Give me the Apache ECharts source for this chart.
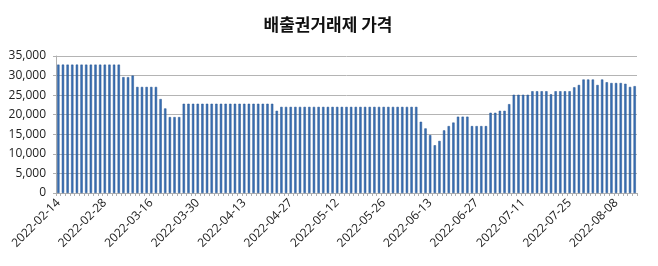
<!DOCTYPE html>
<html><head><meta charset="utf-8">
<script src="https://cdn.jsdelivr.net/npm/echarts@6/dist/echarts.min.js"></script>
<style>html,body{margin:0;padding:0;background:#fff}#c{width:658px;height:266px}</style>
</head><body><div id="c"></div>
<script>
var titleText = '배출권거래제 가격';
var dates = [
'2022-02-14','2022-02-15','2022-02-16','2022-02-17','2022-02-18','2022-02-21','2022-02-22','2022-02-23','2022-02-24','2022-02-25','2022-02-28',
'2022-03-02','2022-03-03','2022-03-04','2022-03-07','2022-03-08','2022-03-10','2022-03-11','2022-03-14','2022-03-15','2022-03-16','2022-03-17','2022-03-18','2022-03-21','2022-03-22','2022-03-23','2022-03-24','2022-03-25','2022-03-28','2022-03-29','2022-03-30','2022-03-31',
'2022-04-01','2022-04-04','2022-04-05','2022-04-06','2022-04-07','2022-04-08','2022-04-11','2022-04-12','2022-04-13','2022-04-14','2022-04-15','2022-04-18','2022-04-19','2022-04-20','2022-04-21','2022-04-22','2022-04-25','2022-04-26','2022-04-27','2022-04-28','2022-04-29',
'2022-05-02','2022-05-03','2022-05-04','2022-05-06','2022-05-09','2022-05-10','2022-05-11','2022-05-12','2022-05-13','2022-05-16','2022-05-17','2022-05-18','2022-05-19','2022-05-20','2022-05-23','2022-05-24','2022-05-25','2022-05-26','2022-05-27','2022-05-30','2022-05-31',
'2022-06-02','2022-06-03','2022-06-07','2022-06-08','2022-06-09','2022-06-10','2022-06-13','2022-06-14','2022-06-15','2022-06-16','2022-06-17','2022-06-20','2022-06-21','2022-06-22','2022-06-23','2022-06-24','2022-06-27','2022-06-28','2022-06-29','2022-06-30',
'2022-07-01','2022-07-04','2022-07-05','2022-07-06','2022-07-07','2022-07-08','2022-07-11','2022-07-12','2022-07-13','2022-07-14','2022-07-15','2022-07-18','2022-07-19','2022-07-20','2022-07-21','2022-07-22','2022-07-25','2022-07-26','2022-07-27','2022-07-28','2022-07-29',
'2022-08-01','2022-08-02','2022-08-03','2022-08-04','2022-08-05','2022-08-08','2022-08-09','2022-08-10','2022-08-11','2022-08-12'
];
var prices = [
32800,32800,32800,32800,32800,32800,32800,32800,32800,32800,32800,32800,32800,32800,
29600,29600,30000,
27100,27100,27100,27100,27100,
24000,21600,
19400,19400,19400,
22800,22800,22800,22800,22800,22800,22800,22800,22800,22800,22800,22800,22800,22800,22800,22800,22800,22800,22800,22800,
21000,
22000,22000,22000,22000,22000,22000,22000,22000,22000,22000,22000,22000,22000,22000,22000,22000,22000,22000,22000,22000,22000,22000,22000,22000,22000,22000,22000,22000,22000,22000,
18200,16500,14800,12200,13300,16000,17100,18000,
19500,19500,19500,
17100,17100,17100,17100,
20500,20500,21000,21000,22700,
25100,25100,25100,25100,
26000,26000,26000,26000,
25200,
26000,26000,26000,26000,
27000,27600,29000,29000,29000,27600,29000,28300,28100,28100,28100,27900,27100,27300
];
var yTicks = {min: 0, max: 35000, interval: 5000};

var chart = echarts.init(document.getElementById('c'), null, {renderer: 'canvas'});
chart.setOption({
  animation: false,
  title: {
    text: titleText, left: 323, top: 11, textAlign: 'center',
    textStyle: {fontFamily: 'Noto Sans CJK KR', fontSize: 17, fontWeight: 'bold', color: '#111'}
  },
  grid: {left: 56, right: 21, top: 56, bottom: 73, containLabel: false},
  xAxis: {
    type: 'category', data: dates, boundaryGap: true,
    axisLine: {show: true, lineStyle: {color: '#b0b0b0', width: 1}},
    axisTick: {show: true, interval: 0, length: 3, lineStyle: {color: '#b0b0b0'}},
    axisLabel: {interval: 9, rotate: 45, fontSize: 12, color: '#222', fontFamily: 'Open Sans', margin: 8}
  },
  yAxis: {
    type: 'value', min: yTicks.min, max: yTicks.max, interval: yTicks.interval,
    axisLine: {show: true, lineStyle: {color: '#b0b0b0'}},
    axisTick: {show: true, length: 3, lineStyle: {color: '#b0b0b0'}},
    splitLine: {show: true, lineStyle: {color: '#b4b4b4', width: 1}},
    axisLabel: {fontSize: 12, color: '#222', fontFamily: 'Open Sans', margin: 10,
      formatter: function (v) { return v.toLocaleString('en-US'); }}
  },
  series: [{
    type: 'bar', data: prices, barCategoryGap: '50%',
    itemStyle: {color: '#3a70b4', borderColor: '#25528f', borderWidth: 0.5}
  }]
});
</script></body></html>
